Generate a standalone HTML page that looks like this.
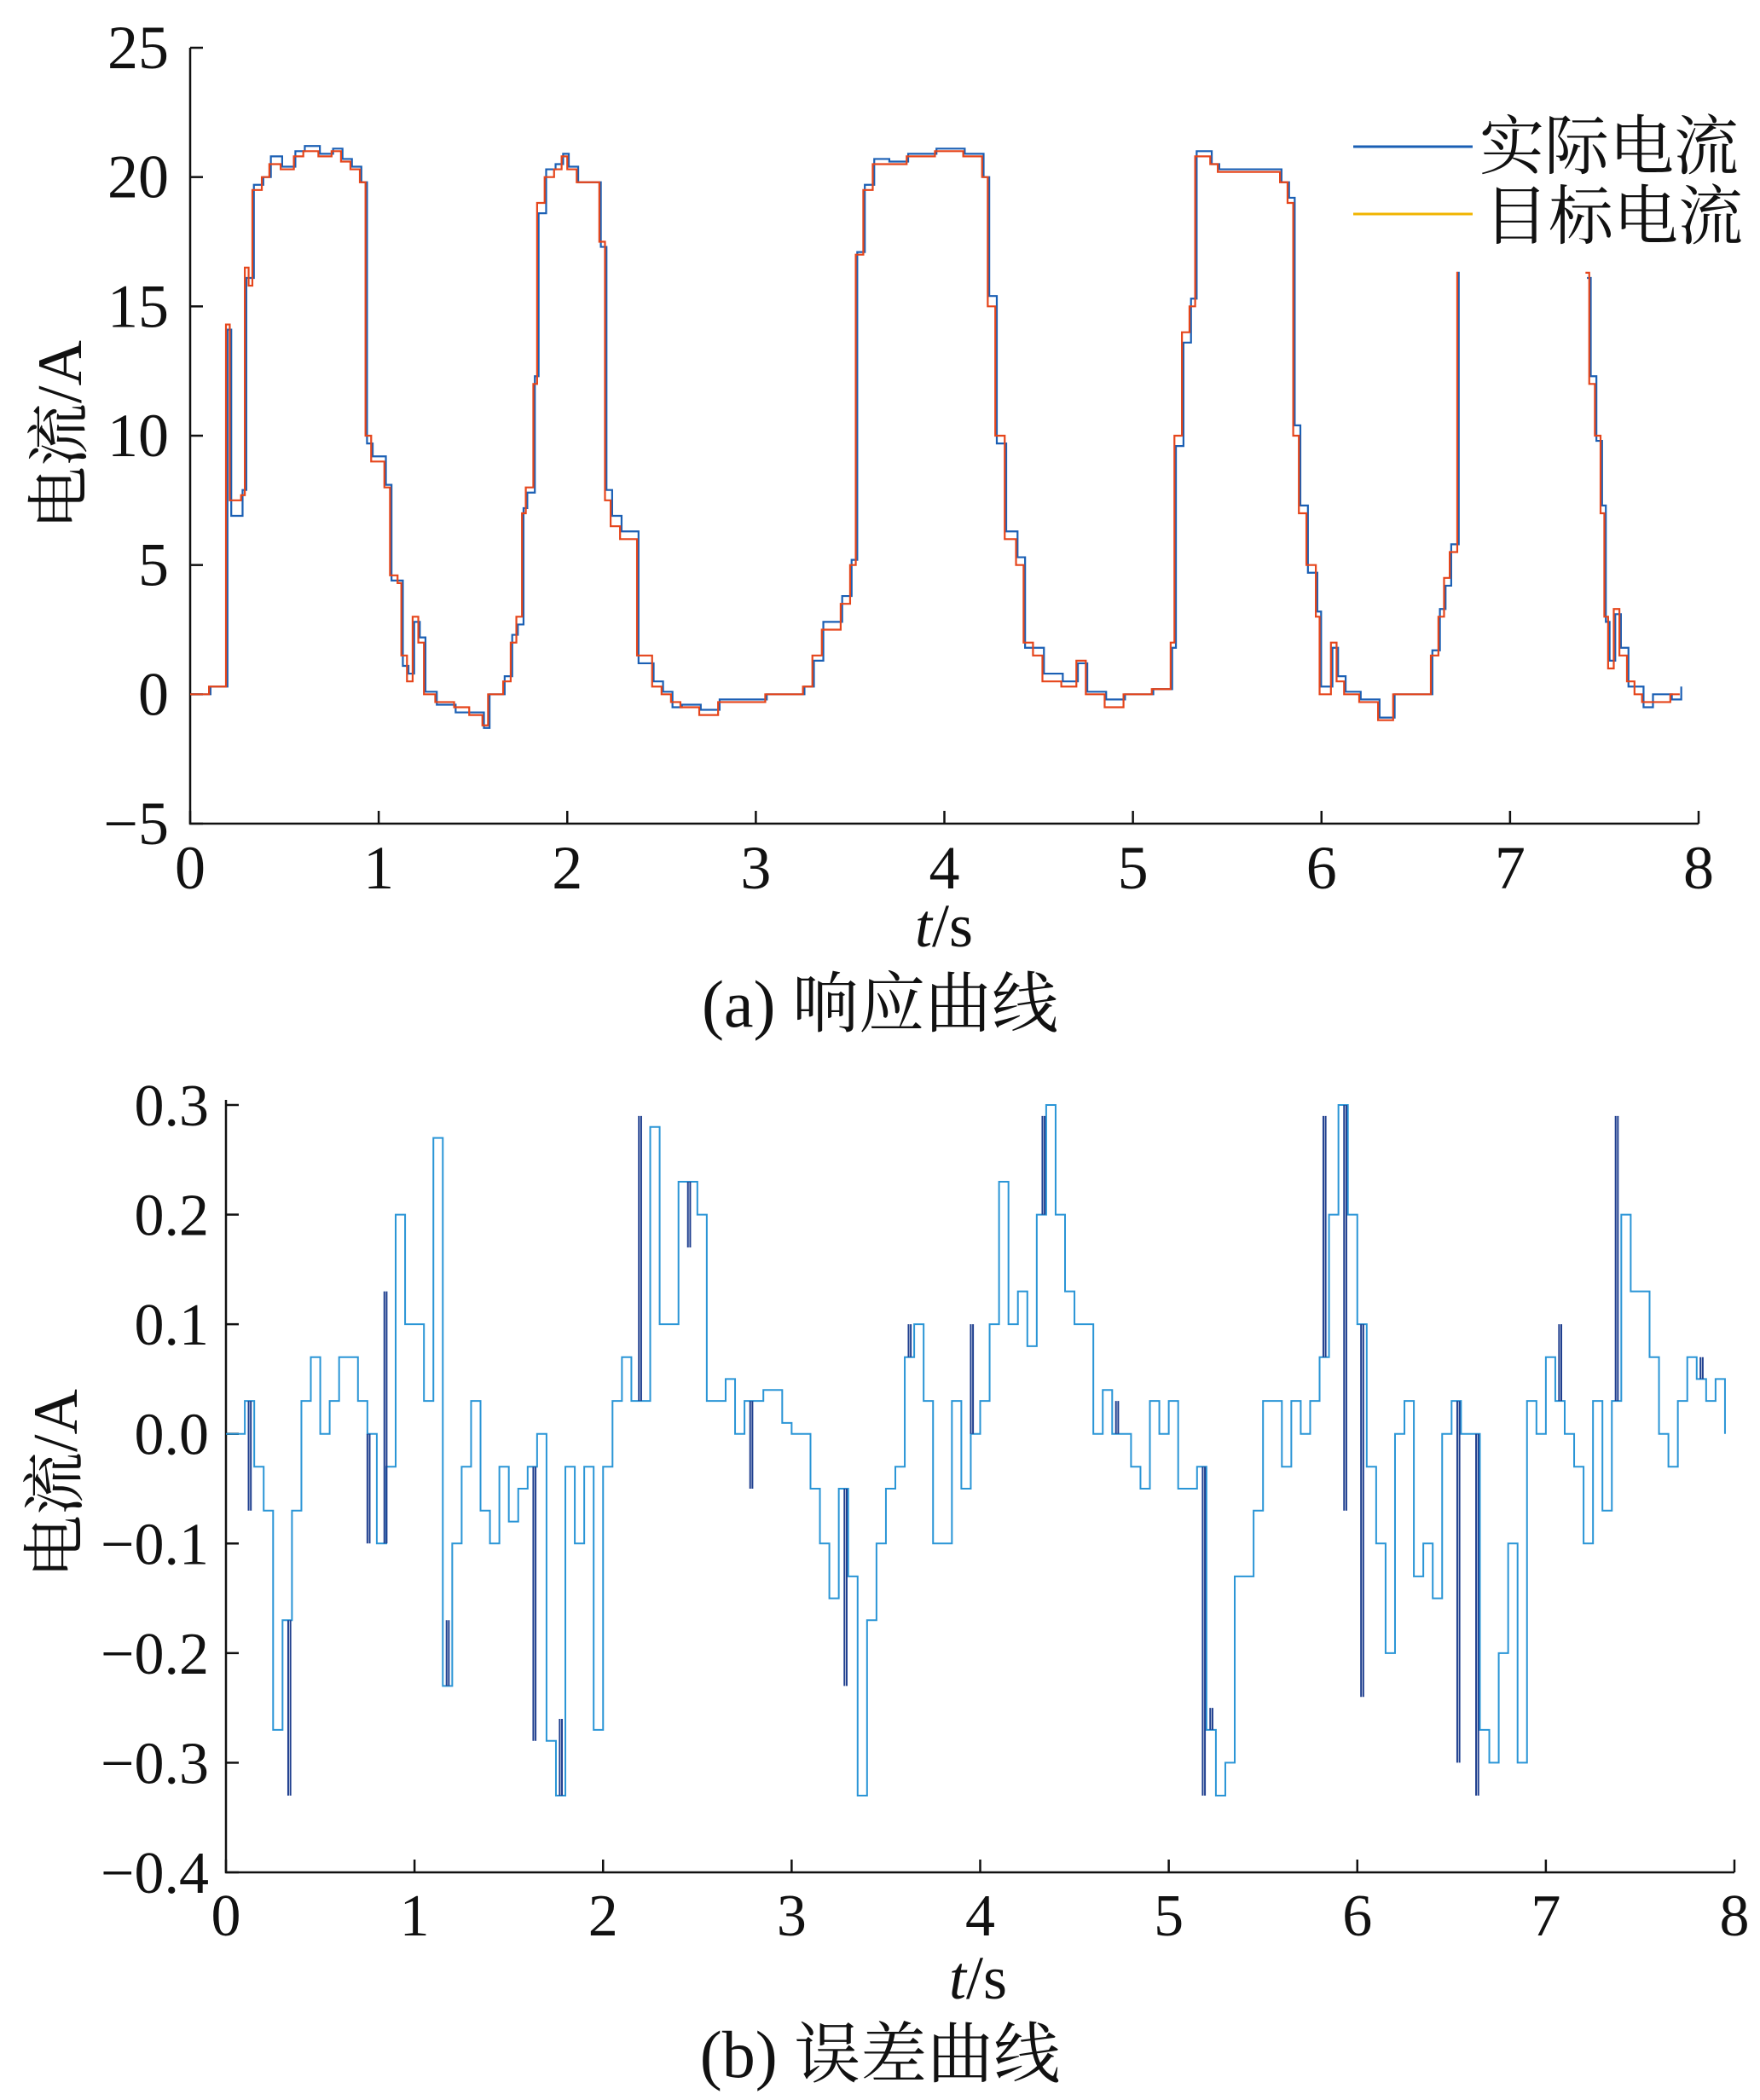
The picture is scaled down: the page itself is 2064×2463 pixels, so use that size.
<!DOCTYPE html>
<html><head><meta charset="utf-8"><style>
body{margin:0;background:#fff}
svg text{font-family:"Liberation Serif","Noto Serif CJK SC",serif;fill:#111}
</style></head><body>
<svg id="svg" width="2064" height="2458" viewBox="0 0 2064 2458" xmlns="http://www.w3.org/2000/svg">
<g id="top"></g>
<g id="bot"></g>
</svg>
<script>
// Top chart data (time breakpoints / step values)
const respTimes=[0,0.1,0.19,0.21,0.27,0.29,0.31,0.33,0.38,0.42,0.48,0.55,0.6,0.68,0.75,0.8,0.85,0.9,0.93,0.96,1.03,1.06,1.1,1.12,1.15,1.18,1.21,1.24,1.3,1.4,1.48,1.55,1.58,1.66,1.7,1.73,1.76,1.78,1.82,1.84,1.88,1.93,1.97,2.0,2.05,2.12,2.17,2.2,2.23,2.28,2.37,2.45,2.5,2.55,2.6,2.7,2.8,3.05,3.25,3.3,3.35,3.45,3.5,3.53,3.57,3.62,3.7,3.8,3.95,4.1,4.2,4.23,4.27,4.32,4.38,4.42,4.47,4.52,4.62,4.7,4.75,4.85,4.95,5.1,5.2,5.22,5.26,5.3,5.33,5.41,5.45,5.55,5.7,5.78,5.82,5.85,5.88,5.92,5.97,5.99,6.05,6.08,6.12,6.2,6.3,6.38,6.5,6.58,6.62,6.65,6.68,6.72,6.725];
const targetVals=[0,0.3,14.3,7.5,7.7,16.5,15.8,19.5,20,20.5,20.3,20.8,21,20.8,21,20.6,20.3,19.8,10,9,8,4.6,4.3,1.5,0.5,3,2,0,-0.3,-0.5,-0.8,-1.2,0,0.5,2,3,7,8,12,19,20,20.3,20.8,20.3,19.8,19.8,17.5,7.5,6.5,6,1.5,0.3,0,-0.3,-0.5,-0.8,-0.3,0,0.3,1.5,2.5,3.5,5,17,19.5,20.5,20.5,20.8,21,20.8,20,15,10,6,5,2,1.5,0.5,0.3,1.3,0,-0.5,0,0.2,2,10,14,15,20.8,20.5,20.2,20.2,20.2,19.8,19,10,7,5,3,0,2,0.5,0,-0.3,-1,0,0,1.5,3,4.5,5.5,16.3,16.3];
const resp2Times=[7.4,7.42,7.45,7.48,7.5,7.52,7.55,7.58,7.62,7.66,7.7,7.75,7.85,7.9];
const target2Vals=[16.3,12,10,7,3,1,3.3,1.5,0.5,0,-0.3,-0.3,0,0];
// Actual current offsets (small deviation)
const actualOffsets=[0,0,-0.2,-0.6,0.2,-0.4,0.3,0.2,0,0.3,0.1,0.2,0.2,0.1,0.1,0.1,0.1,0,-0.3,0.2,0.1,-0.2,0.1,-0.4,0.3,-0.2,0.2,0.1,-0.1,-0.2,0.1,-0.1,0,0.2,0.3,-0.3,0.2,-0.2,0.3,-0.4,0.3,0.2,0.1,0.1,0,0,-0.2,0.4,0.4,0.3,-0.3,0.2,0.1,-0.2,0.1,0.2,0.1,0,0,-0.2,0.3,0.3,0.2,0.1,0.2,0.2,0.1,0.1,0.1,0.1,0,0.4,-0.3,0.3,0.3,-0.2,0.3,0.3,0.2,-0.1,0.1,0.3,0,0,-0.2,-0.4,-0.4,0.3,0.2,0,0.1,0.1,0.1,0,0.2,0.4,0.3,-0.3,0.2,0.3,-0.2,0.2,0.1,0.1,0.1,0,0,0.2,0.3,-0.3,0.3,0,0];
const topYTicks=[25,20,15,10,5,0,-5];
const topYLabels=["25","20","15","10","5","0","\u22125"];
const xTicks=[0,1,2,3,4,5,6,7,8];
// Bottom chart data (values every 0.05 s)
const errStep=0.05;
const errVals=[0,0,0.03,-0.03,-0.07,-0.27,-0.17,-0.07,0.03,0.07,0,0.03,0.07,0.07,0.03,0,-0.1,-0.03,0.2,0.1,0.1,0.03,0.27,-0.23,-0.1,-0.03,0.03,-0.07,-0.1,-0.03,-0.08,-0.05,-0.03,0,-0.28,-0.33,-0.03,-0.1,-0.03,-0.27,-0.03,0.03,0.07,0.03,0.03,0.28,0.1,0.1,0.23,0.23,0.2,0.03,0.03,0.05,0,0.03,0.03,0.04,0.04,0.01,0,0,-0.05,-0.1,-0.15,-0.05,-0.13,-0.33,-0.17,-0.1,-0.05,-0.03,0.07,0.1,0.03,-0.1,-0.1,0.03,-0.05,0,0.03,0.1,0.23,0.1,0.13,0.08,0.2,0.3,0.2,0.13,0.1,0.1,0,0.04,0,0,-0.03,-0.05,0.03,0,0.03,-0.05,-0.05,-0.03,-0.27,-0.33,-0.3,-0.13,-0.13,-0.07,0.03,0.03,-0.03,0.03,0,0.03,0.07,0.2,0.3,0.2,0.1,-0.03,-0.1,-0.2,0,0.03,-0.13,-0.1,-0.15,0,0.03,0,0,-0.27,-0.3,-0.2,-0.1,-0.3,0.03,0,0.07,0.03,0,-0.03,-0.1,0.03,-0.07,0.03,0.2,0.13,0.13,0.07,0,-0.03,0.03,0.07,0.05,0.03,0.05,0];
const errSpikes=[0.12,0.33,0.75,0.84,1.17,1.63,1.77,2.19,2.45,2.78,3.28,3.62,3.95,4.33,4.72,5.18,5.22,5.82,5.93,6.02,6.53,6.63,6.72,7.07,7.37,7.82];
const errSpikeVals=[-0.07,-0.33,-0.1,0.13,-0.17,-0.28,-0.26,0.29,0.17,-0.05,-0.23,0.1,0.1,0.29,0.03,-0.33,-0.25,0.29,-0.07,-0.24,-0.3,-0.33,-0.3,0.1,0.29,0.07];
const botYTicks=[0.3,0.2,0.1,0,-0.1,-0.2,-0.3,-0.4];
const botYLabels=["0.3","0.2","0.1","0.0","\u22120.1","\u22120.2","\u22120.3","\u22120.4"];

const NS="http://www.w3.org/2000/svg";
function mk(p,tag,at,txt){const e=document.createElementNS(NS,tag);for(const k in at)e.setAttribute(k,at[k]);if(txt!==undefined)e.textContent=txt;p.appendChild(e);return e;}

function axes(g,X,Y,x0,x1,yTop,yBot,yT,yL,labRight,xLabY,fs){
  let a=mk(g,'path',{d:`M${x0} ${yTop}V${yBot}H${x1}`,stroke:'#111','stroke-width':2.5,fill:'none'});
  
  
  yT.forEach((v,i)=>{
    const y=Y(v);
    const t=mk(g,'line',{x1:x0,x2:x0+15,y1:y,y2:y,stroke:'#111','stroke-width':2.5});
    
    
    const l=mk(g,'text',{x:labRight,y:y+24,'text-anchor':'end','font-size':fs},yL[i]);
    
    
  });
  xTicks.forEach(v=>{
    const x=X(v);
    const t=mk(g,'line',{x1:x,x2:x,y1:yBot,y2:yBot-15,stroke:'#111','stroke-width':2.5});
    
    
    const l=mk(g,'text',{x:x,y:xLabY,'text-anchor':'middle','font-size':fs},String(v));
    
    
  });
}
function stepPath(X,Y,ts,vs){
  let d='';
  for(let i=0;i<ts.length;i++){
    const x=X(ts[i]),y=Y(vs[i]);
    if(i===0)d+=`M${x} ${y}`;else d+=`H${x}V${y}`;
  }
  return d;
}

// Top
const tg=document.getElementById('top');
const TX=v=>223+v*(1992-223)/8, TY=v=>56+(25-v)*(966-56)/30;
axes(tg,TX,TY,223,1992,56,966,topYTicks,topYLabels,198,1042,72);
const actVals=targetVals.map((v,i)=>v+actualOffsets[i]);
const act2=target2Vals.map((v,i)=>v+(i%2?0.3:-0.2));
let p=mk(tg,'path',{d:stepPath(TX,TY,respTimes.map(t=>t+0.008),actVals)+stepPath(TX,TY,resp2Times.map(t=>t+0.008),act2),stroke:'#1a5fb4','stroke-width':2.2,fill:'none'});


p=mk(tg,'path',{d:stepPath(TX,TY,respTimes,targetVals)+stepPath(TX,TY,resp2Times,target2Vals),stroke:'#e5451b','stroke-width':2.2,fill:'none'});


let e;
e=mk(tg,'line',{x1:1587,x2:1727,y1:172,y2:172,stroke:'#1a5fb4','stroke-width':3});


e=mk(tg,'text',{x:1735,y:198,'font-size':76},'实际电流');


e=mk(tg,'line',{x1:1587,x2:1727,y1:251,y2:251,stroke:'#f0b400','stroke-width':3});


e=mk(tg,'text',{x:1740,y:280,'font-size':76},'目标电流');


e=mk(tg,'text',{x:70,y:510,'font-size':74,'text-anchor':'middle',transform:'rotate(-90 70 510) translate(0 25)'},'电流/A');


e=mk(tg,'text',{x:1107,y:1110,'font-size':72,'text-anchor':'middle'});
e.innerHTML='<tspan font-style="italic">t</tspan>/s';


e=mk(tg,'text',{x:1032,y:1204,'font-size':78,'text-anchor':'middle'},'(a) 响应曲线');



// Bottom
const bg=document.getElementById('bot');
const BX=v=>265+v*(2034-265)/8, BY=v=>1296+(0.3-v)*(2196-1296)/0.7;
axes(bg,BX,BY,265,2034,1290,2196,botYTicks,botYLabels,245,2270,70);
const et=errVals.map((v,i)=>i*errStep);
p=mk(bg,'path',{d:stepPath(BX,BY,et,errVals),stroke:'#2a95d6','stroke-width':2,fill:'none'});


let sd='';
errSpikes.forEach((t,i)=>{const idx=Math.floor(t/errStep);const base=errVals[Math.min(idx,errVals.length-1)];sd+=`M${BX(t)} ${BY(base)}V${BY(errSpikeVals[i])}M${BX(t+0.012)} ${BY(errSpikeVals[i])}V${BY(base)}`;});
p=mk(bg,'path',{d:sd,stroke:'#1f3f8f','stroke-width':2,fill:'none'});


e=mk(bg,'text',{x:65,y:1740,'font-size':74,'text-anchor':'middle',transform:'rotate(-90 65 1740) translate(0 25)'},'电流/A');


e=mk(bg,'text',{x:1147,y:2344,'font-size':72,'text-anchor':'middle'});
e.innerHTML='<tspan font-style="italic">t</tspan>/s';


e=mk(bg,'text',{x:1032,y:2436,'font-size':78,'text-anchor':'middle'},'(b) 误差曲线');


</script>
</body></html>
